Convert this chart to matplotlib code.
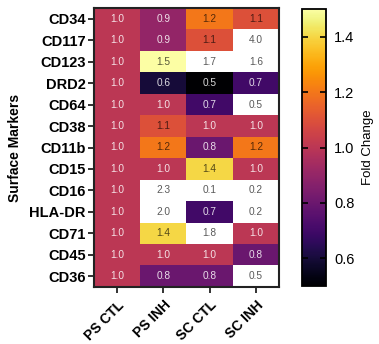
import numpy as np
import matplotlib
matplotlib.use("Agg")
import matplotlib.pyplot as plt
from matplotlib.colors import Normalize

plt.rcParams['font.family'] = ['Liberation Sans', 'DejaVu Sans']

markers = ["CD34", "CD117", "CD123", "DRD2", "CD64", "CD38", "CD11b",
           "CD15", "CD16", "HLA-DR", "CD71", "CD45", "CD36"]
conditions = ["PS CTL", "PS INH", "SC CTL", "SC INH"]

ps_ctl = [1.0, 1.0, 1.0, 1.0, 1.0, 1.0, 1.0, 1.0, 1.0, 1.0, 1.0, 1.0, 1.0]
ps_inh = [0.9, 0.9, 1.5, 0.6, 1.0, 1.1, 1.2, 1.0, 2.3, 2.0, 1.4, 1.0, 0.8]
sc_ctl = [1.2, 1.1, 1.7, 0.5, 0.7, 1.0, 0.8, 1.4, 0.1, 0.7, 1.8, 1.0, 0.8]
sc_inh = [1.1, 4.0, 1.6, 0.7, 0.46, 1.0, 1.2, 1.0, 0.2, 0.2, 1.0, 0.8, 0.46]

data = np.array([ps_ctl, ps_inh, sc_ctl, sc_inh]).T
vmin, vmax = 0.5, 1.5

fig = plt.figure(figsize=(3.79, 3.44), dpi=100)
ax = fig.add_axes([94/379, 1 - 287/344, 185/379, 279/344])
cax = fig.add_axes([302/379, 1 - 286/344, 24/379, 277/344])

cmap = plt.get_cmap('inferno').copy()
cmap.set_over('white')
cmap.set_under('white')
norm = Normalize(vmin=vmin, vmax=vmax)

im = ax.imshow(data, cmap=cmap, norm=norm, aspect='auto', interpolation='nearest')

for i in range(data.shape[0]):
    for j in range(data.shape[1]):
        v = data[i, j]
        if v < vmin or v > vmax or v > 1.05:
            col, a = 'black', 0.65
        else:
            col, a = 'white', 0.85
        ax.text(j, i, f"{v:.1f}", ha='center', va='center', fontsize=7.3,
                color=col, alpha=a)

ax.set_xticks(range(len(conditions)))
ax.set_xticklabels(conditions, rotation=45, ha='right', rotation_mode='anchor',
                   fontsize=10, fontweight='bold')
ax.set_yticks(range(len(markers)))
ax.set_yticklabels(markers, fontsize=10.5, fontweight='bold')
ax.tick_params(axis='both', length=4, width=1.3, color='#222222', pad=2)
ax.tick_params(axis='x', pad=4)
for s in ax.spines.values():
    s.set_linewidth(1.5)
    s.set_color('#222222')
ax.set_ylabel("Surface Markers", fontsize=10, fontweight='bold', labelpad=5)

cb = fig.colorbar(im, cax=cax, extend='neither')
cb.set_ticks([0.6, 0.8, 1.0, 1.2, 1.4])
cb.ax.tick_params(direction='in', length=4, width=1.2, labelsize=10.5, pad=6,
                  left=True, right=True)
cb.outline.set_linewidth(1.3)
cb.set_label("Fold Change", fontsize=9.5, labelpad=5)

fig.savefig("out.png", dpi=100)
